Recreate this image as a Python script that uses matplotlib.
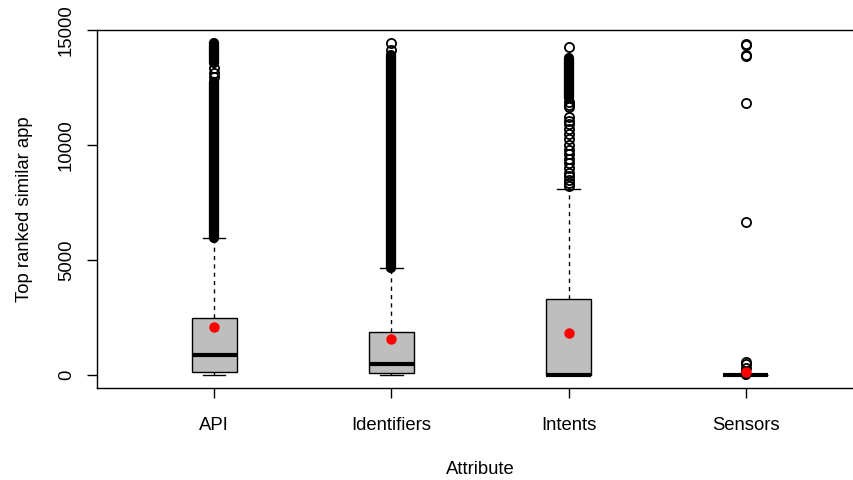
import numpy as np
import matplotlib.pyplot as plt

plt.rcParams['font.family'] = ['Liberation Sans', 'DejaVu Sans']

# attribute groups and their box statistics
attributes = ['API', 'Identifiers', 'Intents', 'Sensors']
whisker_low = [1, 1, 1, 0]
q1 = [130, 90, 5, 0]
median = [870, 470, 20, 0]
q3 = [2480, 1880, 3300, 0]
whisker_high = [5960, 4650, 8090, 0]
means = [2090, 1560, 1820, 130]

# outliers packed so tightly that they merge into a solid column (low, high)
dense_bands = [
    [(5960, 12750), (13550, 14430)],
    [(4650, 13900)],
    [(12050, 13780)],
    [(0, 130)],
]

# outliers that still show up as single circles
sparse_outliers = [
    [12950, 13150, 13350],
    [14130, 14430],
    [8200, 8350, 8500, 8650, 8800, 9000, 9200, 9400, 9600, 9800, 10000,
     10250, 10500, 10700, 10900, 11050, 11220, 11650, 11750, 11870, 14260],
    [300, 480, 560, 6650, 11830, 13870, 13913, 14350, 14391],
]

stats = []
for i, name in enumerate(attributes):
    stats.append({'label': name, 'whislo': whisker_low[i], 'q1': q1[i],
                  'med': median[i], 'q3': q3[i], 'whishi': whisker_high[i],
                  'fliers': []})

fig = plt.figure(figsize=(8.54, 4.8), dpi=100)
ax = fig.add_axes([97 / 854, 1 - 388 / 480, 766 / 854, 358 / 480])

pos = np.arange(1, len(attributes) + 1)
ax.bxp(stats, positions=pos, widths=0.254, patch_artist=True,
       showfliers=False,
       boxprops=dict(facecolor='#bebebe', edgecolor='black', linewidth=1),
       medianprops=dict(color='black', linewidth=3, solid_capstyle='butt'),
       whiskerprops=dict(color='black', linewidth=1, linestyle=(0, (3, 3))),
       capprops=dict(color='black', linewidth=1), capwidths=0.127)

for i, bands in enumerate(dense_bands):
    for lo, hi in bands:
        ax.plot([pos[i], pos[i]], [lo, hi], color='black', linewidth=7.4,
                solid_capstyle='round', zorder=3)
    ax.plot(np.full(len(sparse_outliers[i]), pos[i]), sparse_outliers[i],
            linestyle='none', marker='o', markersize=6.6, markeredgewidth=1.3,
            markerfacecolor='none', markeredgecolor='black', zorder=4)

ax.plot(pos, means, linestyle='none', marker='o', markersize=6.5,
        color='red', zorder=5)

ax.set_xlim(0.34, 4.66)
ax.set_ylim(-565, 15000)
ax.set_xticks(pos)
ax.set_xticklabels(attributes)
ax.set_yticks([0, 5000, 10000, 15000])
ax.set_yticklabels(['0', '5000', '10000', '15000'], rotation=90, va='center')
ax.tick_params(axis='both', labelsize=13.3, length=7, width=1)
ax.tick_params(axis='x', pad=14)
ax.tick_params(axis='y', pad=9)
for side in ax.spines.values():
    side.set_linewidth(1)

ax.set_xlabel('Attribute', fontsize=13.3, labelpad=19)
ax.set_ylabel('Top ranked similar app', fontsize=13.3, labelpad=18)

fig.savefig('out.png', dpi=100)
